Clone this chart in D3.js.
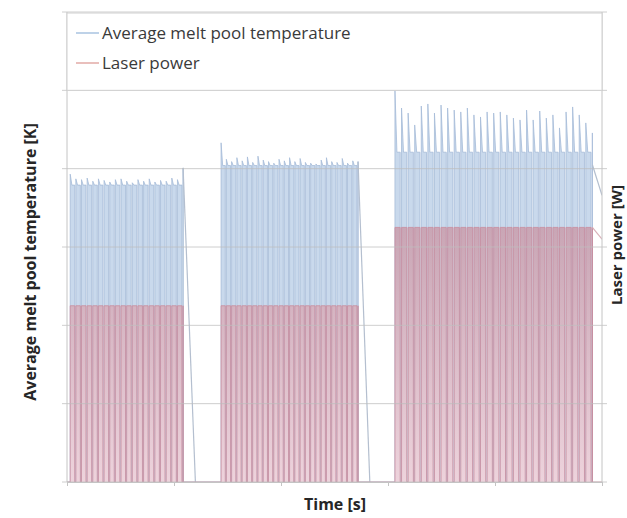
<!DOCTYPE html>
<html>
<head>
<meta charset="utf-8">
<script src="https://cdn.jsdelivr.net/npm/d3@7"></script>
<style>
body{margin:0;background:#fff;}
svg{display:block;font-family:"Open Sans",sans-serif;}
</style>
</head>
<body>
<div id="chart"></div>
<script>
// pulse trains: start / end time of each train [s]
var groupStart = [0.3, 14.4, 30.65];
var groupEnd = [10.85, 27.2, 49.1];
// cooling tail after each train: start value and end point
var tailStartTemp = [2005, 2045, 2025];
var tailTime = [12.0, 28.3, 50.0];
var tailTemp = [0, 0, 1830];
var tailPower = [0, 0, 310];

var laserPower = [225, 225, 325];      // W
var plateauTemp = [1895, 2020, 2105];  // K

// peak temperature of every pulse [K]
var peakTemp1 = [1965, 1935, 1930, 1940, 1920, 1935, 1925, 1915, 1930, 1935, 1920,
                 1910, 1930, 1920, 1935, 1915, 1925, 1920, 1940, 1930, 2005];
var peakTemp2 = [2165, 2060, 2045, 2070, 2050, 2075, 2040, 2080, 2055, 2045, 2035,
                 2060, 2050, 2070, 2045, 2065, 2040, 2035, 2030, 2055, 2070, 2045,
                 2040, 2065, 2035, 2050, 2045];
var peakTemp3 = [2502, 2387, 2355, 2279, 2400, 2413, 2355, 2406, 2387, 2374, 2362,
                 2387, 2343, 2330, 2362, 2355, 2362, 2343, 2323, 2311, 2374, 2311,
                 2368, 2323, 2343, 2260, 2362, 2394, 2343, 2292, 2228];
var peakTemps = [peakTemp1, peakTemp2, peakTemp3];

var timeTicks = [0, 10, 20, 30, 40, 50];
var tempTicks = [0, 500, 1000, 1500, 2000, 2500, 3000];
var seriesNames = ["Average melt pool temperature", "Laser power"];

var width = 627, height = 518;
var padL = 67, padR = 602, padT = 12, padB = 482;

var svg = d3.select("#chart").append("svg")
    .attr("width", width)
    .attr("height", height);

var x = d3.scaleLinear().domain([0, 50]).range([padL, padR]);
var yT = d3.scaleLinear().domain([0, 3000]).range([padB, padT]);
var yP = d3.scaleLinear().domain([0, 600]).range([padB, padT]);

// pulse series (filled part) and the tails (line only)
var tempPts = [[0, 0]], powerPts = [[0, 0]];
var tempTails = [], powerTails = [];
groupStart.forEach(function(t0, g) {
    var peaks = peakTemps[g], n = peaks.length;
    var period = (groupEnd[g] - t0) / (n - 1);
    peaks.forEach(function(pk, i) {
        var t = t0 + i * period;
        tempPts.push([t, 0], [t, pk]);
        powerPts.push([t, 0], [t, laserPower[g]]);
        if (i < n - 1) {
            var spike = t + period * 0.3, off = t + period * 0.8;
            tempPts.push([spike, plateauTemp[g]], [off, plateauTemp[g]], [off, 0]);
            powerPts.push([off, laserPower[g]], [off, 0]);
        } else {
            tempPts.push([t, 0]);
            powerPts.push([t, 0]);
        }
    });
    tempTails.push([[groupEnd[g], tailStartTemp[g]], [tailTime[g], tailTemp[g]]]);
    if (tailPower[g] > 0)
        powerTails.push([[groupEnd[g], laserPower[g]], [tailTime[g], tailPower[g]]]);
});
powerPts.push([50, 0]);

var defs = svg.append("defs");
defs.append("clipPath").attr("id", "plot")
  .append("rect").attr("x", padL).attr("y", padT)
    .attr("width", padR - padL).attr("height", padB - padT);

var grad = defs.append("linearGradient").attr("id", "pinkGrad")
    .attr("x1", 0).attr("y1", 0).attr("x2", 0).attr("y2", 1);
grad.append("stop").attr("offset", "0%").attr("stop-color", "#c9a0af");
grad.append("stop").attr("offset", "100%").attr("stop-color", "#f1d2da");

var g = svg.append("g").attr("clip-path", "url(#plot)");

var tempArea = d3.area().x(function(d) { return x(d[0]); })
    .y0(padB).y1(function(d) { return yT(d[1]); });
var tempLine = d3.line().x(function(d) { return x(d[0]); })
    .y(function(d) { return yT(d[1]); });
var powerArea = d3.area().x(function(d) { return x(d[0]); })
    .y0(padB).y1(function(d) { return yP(d[1]); });
var powerLine = d3.line().x(function(d) { return x(d[0]); })
    .y(function(d) { return yP(d[1]); });

g.append("path").datum(tempPts).attr("d", tempArea)
    .attr("fill", "#c9d9ec");
g.append("path").datum(tempPts).attr("d", tempLine)
    .attr("fill", "none").attr("stroke", "#a6bbd8").attr("stroke-width", 0.8);
g.selectAll(".ttail").data(tempTails).enter().append("path")
    .attr("d", tempLine).attr("fill", "none")
    .attr("stroke", "#b4bfcf").attr("stroke-width", 1.2);
g.append("path").datum(powerPts).attr("d", powerArea)
    .attr("fill", "url(#pinkGrad)").attr("opacity", 0.9);
g.append("path").datum(powerPts).attr("d", powerLine)
    .attr("fill", "none").attr("stroke", "#c98c9d").attr("stroke-width", 0.8);
g.selectAll(".ptail").data(powerTails).enter().append("path")
    .attr("d", powerLine).attr("fill", "none")
    .attr("stroke", "#d8b0b8").attr("stroke-width", 1.2);

// gridlines + axis frame
svg.append("g").selectAll("line").data(tempTicks).enter().append("line")
    .attr("x1", padL - 5).attr("x2", padR + 5)
    .attr("y1", function(d) { return yT(d); })
    .attr("y2", function(d) { return yT(d); })
    .attr("stroke", "#bdbdbd").attr("stroke-opacity", 0.75);

svg.append("line").attr("x1", padL).attr("x2", padL)
    .attr("y1", padT).attr("y2", padB).attr("stroke", "#c4c4c4");
svg.append("line").attr("x1", padR).attr("x2", padR)
    .attr("y1", padT).attr("y2", padB).attr("stroke", "#c4c4c4");

var xAxis = d3.axisBottom(x).tickValues(timeTicks).tickSize(4).tickFormat("");
svg.append("g").attr("transform", "translate(0," + padB + ")").call(xAxis)
    .call(function(a) {
        a.select(".domain").attr("stroke", "#c4c4c4");
        a.selectAll(".tick line").attr("stroke", "#c4c4c4");
    });

// legend over the top band
svg.append("rect").attr("x", padL).attr("y", padT + 1)
    .attr("width", padR - padL).attr("height", yT(2500) - padT - 1)
    .attr("fill", "#fff").attr("stroke", "#d0d0d0");

var legColors = ["#a9c3e0", "#e2aaa6"];
seriesNames.forEach(function(name, i) {
    var ly = 33 + i * 30;
    svg.append("line").attr("x1", 76).attr("x2", 99)
        .attr("y1", ly).attr("y2", ly)
        .attr("stroke", legColors[i]).attr("stroke-width", 1.5);
    svg.append("text").attr("x", 102).attr("y", ly + 6)
        .attr("font-size", 17).attr("fill", "#3a3a3a")
        .text(name);
});

// axis titles
svg.append("text").attr("transform", "translate(36,262) rotate(-90)")
    .attr("text-anchor", "middle").attr("font-size", 16)
    .attr("font-weight", "bold").attr("fill", "#262626")
    .text("Average melt pool temperature [K]");
svg.append("text").attr("transform", "translate(622,245) rotate(-90)")
    .attr("text-anchor", "middle").attr("font-size", 15)
    .attr("font-weight", "bold").attr("fill", "#262626")
    .text("Laser power [W]");
svg.append("text").attr("x", 335).attr("y", 510)
    .attr("text-anchor", "middle").attr("font-size", 16)
    .attr("font-weight", "bold").attr("fill", "#262626")
    .text("Time [s]");
</script>
</body>
</html>
